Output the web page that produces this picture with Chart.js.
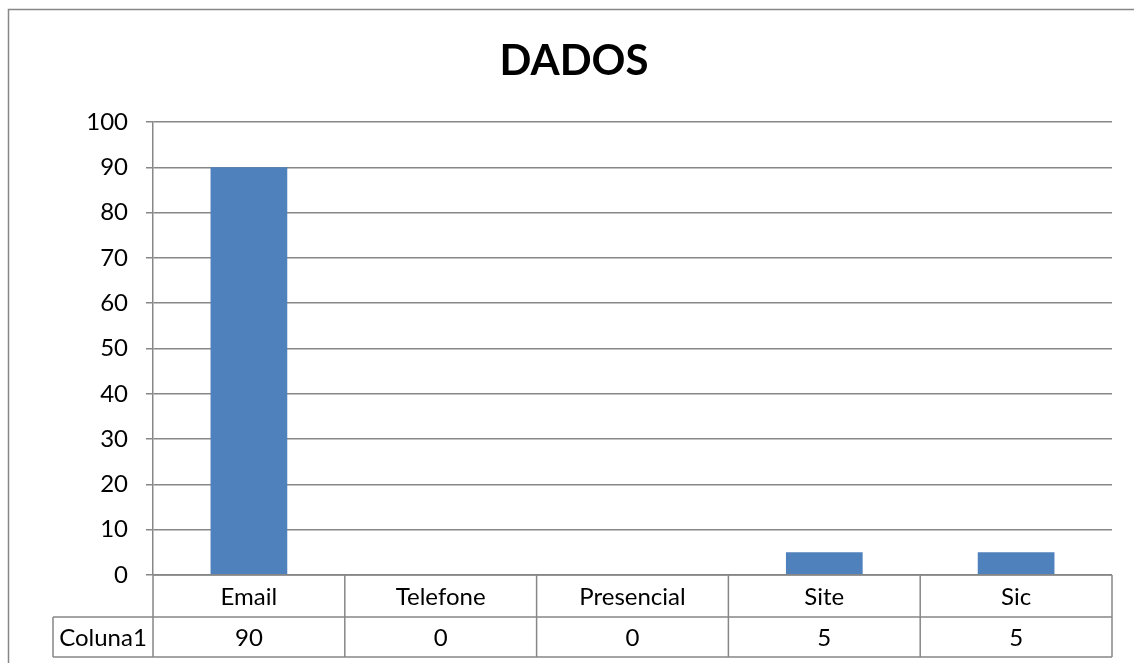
<!DOCTYPE html>
<html lang="pt">
<head>
<meta charset="utf-8">
<title>DADOS</title>
<script src="https://cdn.jsdelivr.net/npm/chart.js@4"></script>
<style>
    html, body { margin: 0; padding: 0; background: #fff; }
    #wrap { width: 1134px; height: 663px; position: relative; }
</style>
</head>
<body>
<div id="wrap"><canvas id="grafico"></canvas></div>
<script>
// Dados do gráfico
const categorias = ['Email', 'Telefone', 'Presencial', 'Site', 'Sic'];
const coluna1 = [90, 0, 0, 5, 5];
const nomeSerie = 'Coluna1';
const tituloGrafico = 'DADOS';
const ticksY = [0, 10, 20, 30, 40, 50, 60, 70, 80, 90, 100];

const corLinha = '#878787';
const fonte = 'Lato, "Open Sans", sans-serif';

// Moldura parcial (esquerda e topo) e título, como no original
const moldura = {
    id: 'moldura',
    beforeDraw(chart) {
        const ctx = chart.ctx;
        ctx.save();
        ctx.strokeStyle = corLinha;
        ctx.lineWidth = 1.5;
        ctx.beginPath();
        ctx.moveTo(8.5, chart.height);
        ctx.lineTo(8.5, 9.5);
        ctx.lineTo(chart.width, 9.5);
        ctx.stroke();

        // título centrado na moldura do gráfico
        ctx.fillStyle = '#000';
        ctx.font = 'bold 42px ' + fonte;
        ctx.textAlign = 'center';
        ctx.textBaseline = 'middle';
        ctx.fillText(tituloGrafico, 574, 61);
        ctx.restore();
    }
};

// Tabela de dados por baixo do eixo X
const tabelaDados = {
    id: 'tabelaDados',
    afterDraw(chart) {
        const ctx = chart.ctx;
        const area = chart.chartArea;
        const x = chart.scales.x;
        const n = categorias.length;
        const largura = area.width / n;
        const topo = area.bottom;
        const linha1 = topo + 42;
        const linha2 = x.bottom;
        const esquerdaTabela = 53;

        ctx.save();
        ctx.strokeStyle = corLinha;
        ctx.lineWidth = 1.5;
        ctx.beginPath();
        // linhas horizontais
        ctx.moveTo(area.left, topo); ctx.lineTo(area.right, topo);
        ctx.moveTo(esquerdaTabela, linha1); ctx.lineTo(area.right, linha1);
        ctx.moveTo(esquerdaTabela, linha2); ctx.lineTo(area.right, linha2);
        // linhas verticais
        for (let i = 0; i <= n; i++) {
            const px = area.left + i * largura;
            ctx.moveTo(px, topo); ctx.lineTo(px, linha2);
        }
        ctx.moveTo(esquerdaTabela, linha1); ctx.lineTo(esquerdaTabela, linha2);
        ctx.stroke();

        ctx.fillStyle = '#000';
        ctx.font = '24px ' + fonte;
        ctx.textAlign = 'center';
        ctx.textBaseline = 'middle';
        categorias.forEach((c, i) => {
            const cx = x.getPixelForValue(i);
            ctx.fillText(c, cx, (topo + linha1) / 2 + 1);
            ctx.fillText(String(coluna1[i]), cx, (linha1 + linha2) / 2 + 1);
        });
        ctx.fillText(nomeSerie, (esquerdaTabela + area.left) / 2, (linha1 + linha2) / 2 + 1);
        ctx.restore();
    }
};

Chart.defaults.font.family = fonte;

new Chart(document.getElementById('grafico'), {
    type: 'bar',
    data: {
        labels: categorias,
        datasets: [{
            label: nomeSerie,
            data: coluna1,
            backgroundColor: '#4F81BD',
            barPercentage: 0.4,
            categoryPercentage: 1.0
        }]
    },
    options: {
        responsive: true,
        maintainAspectRatio: false,
        animation: false,
        layout: { padding: { left: 0, right: 22, top: 122, bottom: 6 } },
        plugins: {
            legend: { display: false },
            tooltip: { enabled: false },
            title: { display: false }
        },
        scales: {
            x: {
                ticks: { display: false },
                grid: { display: false },
                border: { display: false },
                afterFit(scale) { scale.height = 82; }
            },
            y: {
                min: 0,
                max: 100,
                afterBuildTicks(scale) {
                    scale.ticks = ticksY.map(v => ({ value: v }));
                },
                ticks: {
                    color: '#000',
                    font: { size: 24 },
                    padding: 18
                },
                grid: {
                    color: corLinha,
                    lineWidth: 1.5,
                    tickLength: 7
                },
                border: { display: true, color: corLinha, width: 1.5 },
                afterFit(scale) { scale.width = 153; }
            }
        }
    },
    plugins: [moldura, tabelaDados]
});
</script>
</body>
</html>
